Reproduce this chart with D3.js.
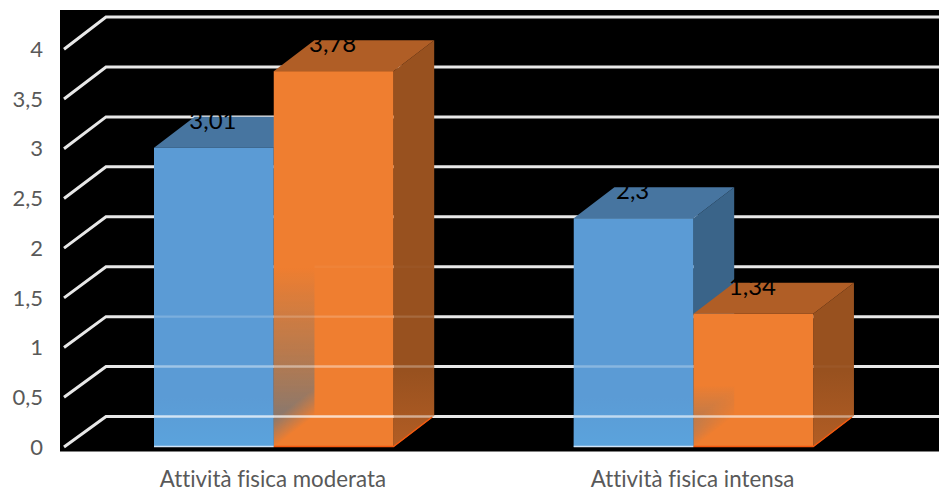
<!DOCTYPE html>
<html><head><meta charset="utf-8">
<script src="https://cdn.jsdelivr.net/npm/d3@7/dist/d3.min.js"></script>
<style>html,body{margin:0;padding:0;background:#fff}svg{display:block}text{font-variant-ligatures:none}</style>
</head><body><svg id="c" width="939" height="491"></svg>
<script>
const categories = ["Attività fisica moderata", "Attività fisica intensa"];
const seriesA = [3.01, 2.3];
const seriesB = [3.78, 1.34];
const labelsA = ["3,01", "2,3"];
const labelsB = ["3,78", "1,34"];
const yTicks = [0, 0.5, 1, 1.5, 2, 2.5, 3, 3.5, 4];
const colors = {A: {front: "#5b9bd5", top: "#4775a0", side: "#3a6489"}, B: {front: "#ef7e30", top: "#b05e26", side: "#98511f"}};
const seeThrough = [
  [[0, 0.72], [0.5, 0.42], [1, 0.2], [1.5, 0.04]],
  [[0, 0.62], [0.5, 0.28]]
];
const fadeTop = [1.8, 0.62];
const fadeStrength = [0.95, 0.7];

const W = 939, font = "Lato, 'Open Sans', sans-serif";
const dx = 40.7, dy = -31;
const svg = d3.select("#c");
const y = d3.scaleLinear().domain([0, 4]).range([447, 49.3]);
const yBack = d3.scaleLinear().domain([0, 4]).range([416.5, 17]);
const x0 = d3.scaleBand().domain(categories).range([64, 903.5]);
const x1 = d3.scaleBand().domain(["A", "B"]).range([90, 329.5]);
const bw = x1.bandwidth();
const fmt = v => String(v).replace(".", ",");

svg.append("rect").attr("x", 60).attr("y", 10).attr("width", W - 60).attr("height", 441.5).attr("fill", "#000");

const grid = svg.append("g");
yTicks.forEach(t => {
  grid.append("path")
    .attr("d", `M64,${y(t)}L${106},${yBack(t)}H${W}`)
    .attr("fill", "none").attr("stroke", "#e8e8e8").attr("stroke-width", 3);
});

svg.append("g").selectAll("text").data(yTicks).join("text")
  .attr("x", 43).attr("y", d => y(d)).attr("dy", "0.35em")
  .attr("text-anchor", "end").attr("font-family", font).attr("font-size", 22).attr("fill", "#595959")
  .text(fmt);
svg.append("g").selectAll("text").data(categories).join("text")
  .attr("x", d => x0(d) + x0.bandwidth() / 2 - 1).attr("y", 487)
  .attr("text-anchor", "middle").attr("font-family", font).attr("font-size", 22.3).attr("fill", "#595959")
  .text(d => d);

const defs = svg.append("defs");
categories.forEach((c, i) => {
  const xm = x0(c) + x1("B"), yb = y(0);
  const g = defs.append("linearGradient").attr("id", "fade" + i).attr("x1", 0).attr("x2", 0).attr("y1", 0).attr("y2", 1);
  g.append("stop").attr("offset", 0).attr("stop-color", "#9a7a62").attr("stop-opacity", 0);
  g.append("stop").attr("offset", 0.45).attr("stop-color", "#a0785a").attr("stop-opacity", 0.7 * fadeStrength[i]);
  g.append("stop").attr("offset", 0.8).attr("stop-color", "#88786e").attr("stop-opacity", fadeStrength[i]);
  const mg = defs.append("linearGradient").attr("id", "mg" + i).attr("gradientUnits", "userSpaceOnUse")
    .attr("x1", xm + 7).attr("y1", yb - 33).attr("x2", xm + 20.5).attr("y2", yb - 15.5);
  mg.append("stop").attr("offset", 0).attr("stop-color", "#fff");
  mg.append("stop").attr("offset", 1).attr("stop-color", "#000");
  defs.append("mask").attr("id", "m" + i).attr("maskUnits", "userSpaceOnUse")
    .attr("x", 0).attr("y", 0).attr("width", 939).attr("height", 491)
    .append("rect").attr("width", 939).attr("height", 491).attr("fill", `url(#mg${i})`);
});
const sg = defs.append("linearGradient").attr("id", "sideGlow").attr("x1", 0).attr("x2", 0).attr("y1", 0).attr("y2", 1);
sg.append("stop").attr("offset", 0).attr("stop-color", "#f07a30").attr("stop-opacity", 0);
sg.append("stop").attr("offset", 1).attr("stop-color", "#f07a30").attr("stop-opacity", 0.3);
const bg = defs.append("linearGradient").attr("id", "blueBase").attr("x1", 0).attr("x2", 0).attr("y1", 0).attr("y2", 1);
bg.append("stop").attr("offset", 0).attr("stop-color", "#5ba5de").attr("stop-opacity", 0);
bg.append("stop").attr("offset", 1).attr("stop-color", "#5ba5de").attr("stop-opacity", 0.8);

const series = [["A", seriesA, labelsA], ["B", seriesB, labelsB]];
categories.forEach((c, i) => {
  series.forEach(([k, vals]) => {
    const col = colors[k], v = vals[i];
    const xl = x0(c) + x1(k), xr = xl + bw, yt = y(v), yb = y(0);
    const g = svg.append("g");
    g.append("path").attr("fill", col.side).attr("d", `M${xr},${yb}L${xr + dx},${yb + dy}V${yt + dy}L${xr},${yt}Z`);
    g.append("path").attr("fill", col.top).attr("d", `M${xl},${yt}L${xl + dx},${yt + dy}H${xr + dx}L${xr},${yt}Z`);
    g.append("rect").attr("x", xl).attr("y", yt).attr("width", bw).attr("height", yb - yt).attr("fill", col.front);
  });
  const xa = x0(c) + x1("A"), xm = x0(c) + x1("B"), xe = xm + bw, yb = y(0);
  svg.append("rect").attr("x", xa).attr("y", yb - 50).attr("width", bw).attr("height", 50).attr("fill", "url(#blueBase)");
  svg.append("path").attr("fill", `url(#fade${i})`).attr("mask", `url(#m${i})`)
    .attr("d", `M${xm},${yb}L${xm + dx},${yb + dy}V${y(fadeTop[i])}H${xm}Z`);
  svg.append("path").attr("fill", "url(#sideGlow)")
    .attr("d", `M${xe},${yb}L${xe + dx},${yb + dy}V${yb + dy - 45}H${xe}Z`);
  seeThrough[i].forEach(([t, op]) => {
    const yy = yBack(t);
    const orangeEnd = (i === 1 && t > 0) ? xm : xe;
    svg.append("line").attr("x1", t >= 1.5 ? xm + dx : xa).attr("x2", orangeEnd).attr("y1", yy).attr("y2", yy)
      .attr("stroke", "#fff").attr("stroke-opacity", op).attr("stroke-width", 2.4);
    svg.append("line").attr("x1", xe).attr("x2", xe + dx).attr("y1", yy).attr("y2", yy)
      .attr("stroke", "#fff").attr("stroke-opacity", (i === 1 && t > 0) ? 0.04 : op * 0.7).attr("stroke-width", 2.4);
  });
  svg.append("line").attr("x1", xa).attr("x2", xm).attr("y1", yb - 0.5).attr("y2", yb - 0.5).attr("stroke", "#cfe3f7").attr("stroke-width", 1.5);
  svg.append("path").attr("fill", "none").attr("stroke", "#f4590f").attr("stroke-width", 1.5)
    .attr("d", `M${xm},${yb - 0.5}H${xe}L${xe + dx - 2},${yb + dy + 1}`);
});

series.forEach(([k, vals, labs]) => {
  categories.forEach((c, i) => {
    svg.append("text")
      .attr("x", x0(c) + x1(k) + bw / 2 - 1).attr("y", y(vals[i]) - 19)
      .attr("text-anchor", "middle").attr("font-family", font).attr("font-size", 24).attr("fill", "#000")
      .text(labs[i]);
  });
});
</script></body></html>
